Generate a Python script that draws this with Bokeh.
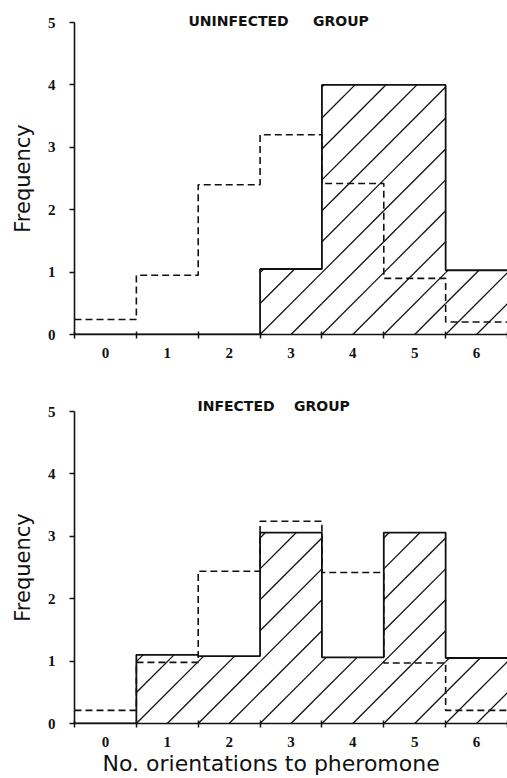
from bokeh.plotting import figure
from bokeh.layouts import column
from bokeh.models import FixedTicker, Range1d, Title
from bokeh.embed import file_html
from bokeh.resources import INLINE

# ---- data ----
bins = [0, 1, 2, 3, 4, 5, 6]
x_tick_labels = ["0", "1", "2", "3", "4", "5", "6"]
y_ticks = [0, 1, 2, 3, 4, 5]

uninfected_obs = [0, 0, 0, 1.05, 4.0, 4.0, 1.03]             # hatched histogram
uninfected_exp = [0.24, 0.95, 2.40, 3.20, 2.42, 0.90, 0.20]  # dashed step
infected_obs = [0, 1.10, 1.08, 3.06, 1.06, 3.06, 1.05]
infected_exp = [0.21, 0.98, 2.44, 3.24, 2.42, 0.97, 0.21]

INK = "#111111"
W = 507
BORDER_L = 74
FRAME_H = 312
X0, X1 = -0.5, 6.5
Y0, Y1 = 0, 5
HATCH_STEP = 0.5  # in bin widths


def step_path(vals):
    xs, ys = [], []
    for b, v in zip(bins, vals):
        xs += [b - 0.5, b + 0.5]
        ys += [v, v]
    return xs, ys


def hatch_segments(vals):
    """45-degree (on screen) hatch lines clipped to each bar."""
    sx = (W - BORDER_L) / (X1 - X0)
    sy = FRAME_H / (Y1 - Y0)
    k = sx / sy
    xs0, ys0, xs1, ys1 = [], [], [], []
    for b, h in zip(bins, vals):
        if h <= 0:
            continue
        l, r = b - 0.5, b + 0.5
        m = int((l - h / k) / HATCH_STEP) - 1
        while m * HATCH_STEP <= r:
            c = m * HATCH_STEP
            a = max(l, c)
            e = min(r, c + h / k)
            if e > a + 1e-9:
                xs0.append(a); ys0.append(k * (a - c))
                xs1.append(e); ys1.append(k * (e - c))
            m += 1
    return xs0, ys0, xs1, ys1


def make_panel(height, border_top, border_bottom, obs, exp, title,
               t_offset, t_standoff, xlabel=None):
    p = figure(width=W, height=height,
               x_range=Range1d(X0, X1), y_range=Range1d(Y0, Y1),
               output_backend="svg", toolbar_location=None,
               min_border_left=BORDER_L, min_border_right=0,
               min_border_top=border_top, min_border_bottom=border_bottom)
    p.outline_line_color = None
    p.grid.visible = False
    p.background_fill_color = "white"
    p.border_fill_color = "white"

    hx0, hy0, hx1, hy1 = hatch_segments(obs)
    p.segment(hx0, hy0, hx1, hy1, line_color=INK, line_width=1.3)

    ox, oy = step_path(obs)
    p.line(ox, oy, line_color=INK, line_width=1.8)

    ex, ey = step_path(exp)
    p.line(ex, ey, line_color=INK, line_width=1.6, line_dash="7 4")

    # axes
    edges = [b - 0.5 for b in bins] + [bins[-1] + 0.5]
    xa = p.xaxis[0]
    xa.ticker = FixedTicker(ticks=bins, minor_ticks=edges)
    xa.major_label_overrides = {b: s for b, s in zip(bins, x_tick_labels)}
    xa.major_tick_in = 0
    xa.major_tick_out = 0
    xa.minor_tick_in = 3
    xa.minor_tick_out = 4
    xa.minor_tick_line_color = INK
    xa.minor_tick_line_width = 1.5
    xa.axis_line_color = INK
    xa.axis_line_width = 1.6
    xa.major_label_text_font = "Liberation Serif"
    xa.major_label_text_font_style = "bold"
    xa.major_label_text_font_size = "15px"
    xa.major_label_text_color = INK
    xa.major_label_standoff = 9

    ya = p.yaxis[0]
    ya.ticker = FixedTicker(ticks=y_ticks)
    ya.minor_tick_line_color = None
    ya.major_tick_in = 0
    ya.major_tick_out = 5
    ya.major_tick_line_color = INK
    ya.major_tick_line_width = 1.5
    ya.axis_line_color = INK
    ya.axis_line_width = 1.6
    ya.major_label_text_font = "Liberation Serif"
    ya.major_label_text_font_style = "bold"
    ya.major_label_text_font_size = "15px"
    ya.major_label_text_color = INK
    ya.major_label_standoff = 14
    ya.axis_label = "Frequency"
    ya.axis_label_text_font = "DejaVu Sans"
    ya.axis_label_text_font_style = "normal"
    ya.axis_label_text_font_size = "21px"
    ya.axis_label_text_color = INK
    ya.axis_label_standoff = 10

    p.add_layout(Title(text=title, align="left", offset=t_offset,
                       standoff=t_standoff, vertical_align="bottom",
                       text_font="DejaVu Sans", text_font_style="bold",
                       text_font_size="14px", text_color=INK), "above")
    if xlabel:
        p.add_layout(Title(text=xlabel, align="left", offset=28,
                           standoff=2, vertical_align="top",
                           text_font="DejaVu Sans", text_font_style="normal",
                           text_font_size="22px", text_color=INK), "below")
    return p


NB = "\u00a0"
top = make_panel(375, 22, 41, uninfected_obs, uninfected_exp,
                 "UNINFECTED" + NB * 4 + " GROUP", 114, -12)
bottom = make_panel(403, 36, 55, infected_obs, infected_exp,
                    "INFECTED" + NB * 3 + " GROUP", 123, -4,
                    xlabel="No. orientations to pheromone")

layout = column(top, bottom, spacing=0)
open("out.html", "w").write(file_html(layout, INLINE))
